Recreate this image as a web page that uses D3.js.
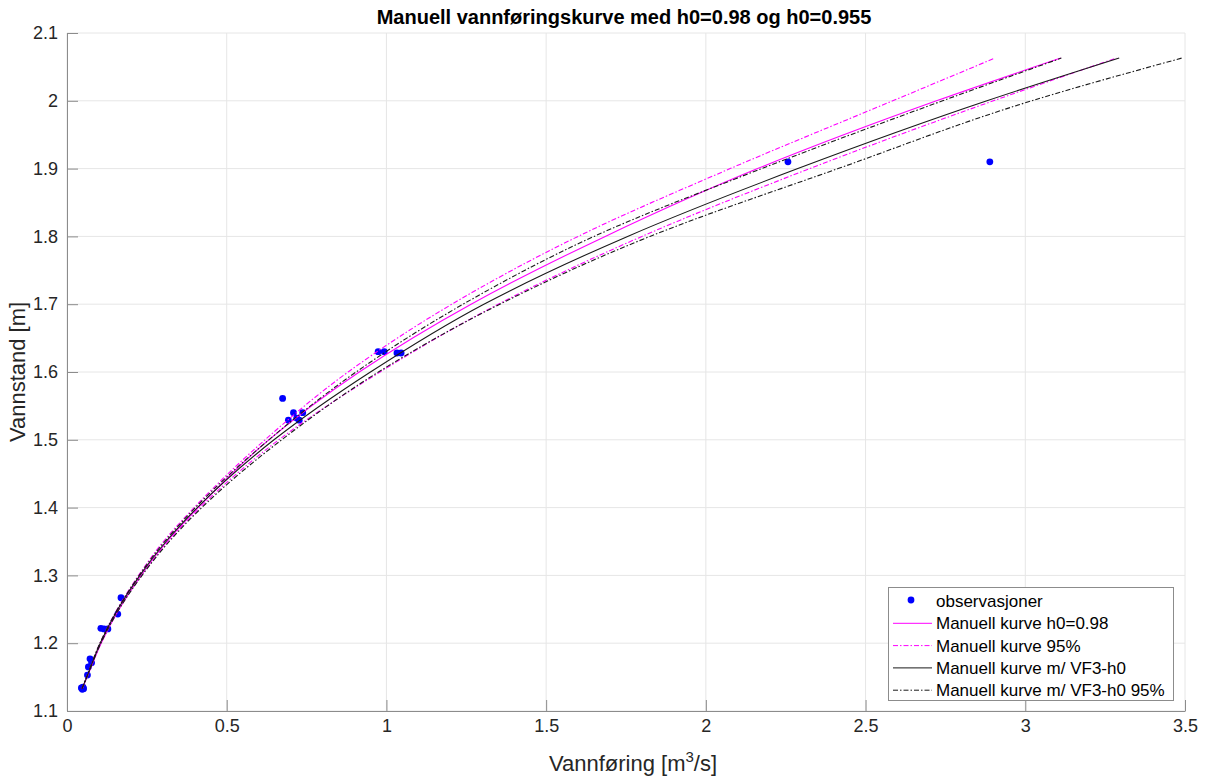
<!DOCTYPE html>
<html>
<head>
<meta charset="utf-8">
<script src="https://cdn.jsdelivr.net/npm/d3@7"></script>
<style>
  body { margin: 0; background: #fff; }
  svg { font-family: "Liberation Sans", Arial, sans-serif; }
</style>
</head>
<body>
<svg id="chart" width="1205" height="776"></svg>
<script>
// stage levels (m) at which the curves are read
const stage = [1.133, 1.15, 1.2, 1.25, 1.3, 1.35, 1.4, 1.5, 1.6, 1.7, 1.8, 1.9, 2.0, 2.063];

// discharge (m3/s) for each curve at the stage levels above
const manuell     = [0.048, 0.063, 0.107, 0.163, 0.232, 0.313, 0.410, 0.632, 0.915, 1.265, 1.685, 2.162, 2.722, 3.111];
const manuellUpp  = [0.047, 0.061, 0.103, 0.157, 0.224, 0.302, 0.398, 0.620, 0.880, 1.205, 1.600, 2.076, 2.585, 2.905];
const manuellNed  = [0.047, 0.062, 0.105, 0.161, 0.232, 0.316, 0.416, 0.663, 0.980, 1.350, 1.800, 2.325, 2.900, 3.285];
const vf3         = [0.047, 0.062, 0.104, 0.159, 0.228, 0.310, 0.408, 0.648, 0.950, 1.305, 1.755, 2.288, 2.880, 3.294];
const vf3Upp      = [0.047, 0.061, 0.103, 0.158, 0.226, 0.306, 0.402, 0.632, 0.905, 1.240, 1.650, 2.175, 2.741, 3.113];
const vf3Ned      = [0.047, 0.062, 0.106, 0.163, 0.235, 0.320, 0.422, 0.672, 0.975, 1.355, 1.825, 2.414, 3.020, 3.490];

// observations
const obsQ = [0.045, 0.048, 0.050, 0.052, 0.064, 0.067, 0.072, 0.077, 0.106, 0.116, 0.128, 0.159, 0.169,
              0.675, 0.693, 0.709, 0.719, 0.727, 0.738, 0.974, 0.993, 1.033, 1.046, 2.257, 2.889];
const obsH = [1.134, 1.132, 1.135, 1.133, 1.153, 1.165, 1.177, 1.171, 1.222, 1.221, 1.221, 1.243, 1.267,
              1.561, 1.529, 1.540, 1.532, 1.529, 1.540, 1.630, 1.630, 1.628, 1.628, 1.910, 1.910];

const xTicks = [0, 0.5, 1, 1.5, 2, 2.5, 3, 3.5];
const yTicks = [1.1, 1.2, 1.3, 1.4, 1.5, 1.6, 1.7, 1.8, 1.9, 2.0, 2.1];

const legendLabels = ["observasjoner", "Manuell kurve h0=0.98", "Manuell kurve 95%",
                      "Manuell kurve m/ VF3-h0", "Manuell kurve m/ VF3-h0 95%"];

const svg = d3.select("#chart");

const x = d3.scaleLinear().domain([0, 3.5]).range([67, 1185]);
const y = d3.scaleLinear().domain([1.1, 2.1]).range([711, 33]);

// grid
const grid = svg.append("g");
grid.selectAll(".gx").data(xTicks).enter().append("line")
  .attr("x1", d => x(d)).attr("x2", d => x(d))
  .attr("y1", y(1.1)).attr("y2", y(2.1))
  .attr("stroke", "#e6e6e6").attr("stroke-width", 1);
grid.selectAll(".gy").data(yTicks).enter().append("line")
  .attr("x1", x(0)).attr("x2", x(3.5))
  .attr("y1", d => y(d)).attr("y2", d => y(d))
  .attr("stroke", "#e6e6e6").attr("stroke-width", 1);

// axes
const xAxis = d3.axisBottom(x).tickValues(xTicks).tickSizeInner(-11).tickSizeOuter(0)
  .tickPadding(20).tickFormat(d3.format("~g"));
const yAxis = d3.axisLeft(y).tickValues(yTicks).tickSizeInner(-11).tickSizeOuter(0)
  .tickPadding(20).tickFormat(d3.format("~g"));

const gx = svg.append("g").attr("transform", `translate(0,${y(1.1)})`).call(xAxis);
const gy = svg.append("g").attr("transform", `translate(${x(0)},0)`).call(yAxis);
[gx, gy].forEach(g => {
  g.select(".domain").attr("stroke", "#8c8c8c");
  g.selectAll(".tick line").attr("stroke", "#8c8c8c");
  g.selectAll(".tick text").attr("fill", "#262626").style("font-size", "18px");
});
gx.selectAll(".tick text").attr("dy", "0.05em");
gy.selectAll(".tick text").attr("dx", "11px");

// observations first, curves drawn over them
svg.append("g").selectAll("circle").data(obsQ).enter().append("circle")
  .attr("cx", d => x(d)).attr("cy", (d, i) => y(obsH[i]))
  .attr("r", 3.4).attr("fill", "#0000ff");

const line = d3.line().curve(d3.curveMonotoneY)
  .x(d => x(d[0])).y(d => y(d[1]));
const curves = [
  {q: manuell, color: "#ff00ff", dash: null},
  {q: manuellUpp, color: "#ff00ff", dash: "5,2,1.5,2"},
  {q: manuellNed, color: "#ff00ff", dash: "5,2,1.5,2"},
  {q: vf3, color: "#1a1a1a", dash: null},
  {q: vf3Upp, color: "#1a1a1a", dash: "5,2,1.5,2"},
  {q: vf3Ned, color: "#1a1a1a", dash: "5,2,1.5,2"}
];
svg.append("g").selectAll("path").data(curves).enter().append("path")
  .attr("d", c => line(c.q.map((q, i) => [q, stage[i]])))
  .attr("fill", "none").attr("stroke", c => c.color).attr("stroke-width", 1.1)
  .attr("stroke-dasharray", c => c.dash);

// title and labels
svg.append("text").attr("x", 624).attr("y", 24).attr("text-anchor", "middle")
  .style("font-size", "20px").style("font-weight", "bold").attr("fill", "#000")
  .text("Manuell vannføringskurve med h0=0.98 og h0=0.955");

const xl = svg.append("text").attr("x", 633).attr("y", 771).attr("text-anchor", "middle")
  .style("font-size", "22px").attr("fill", "#262626");
xl.append("tspan").text("Vannføring [m");
xl.append("tspan").text("3").attr("dy", "-9").style("font-size", "15px");
xl.append("tspan").text("/s]").attr("dy", "9");

svg.append("text").attr("transform", `translate(25,${(y(1.1) + y(2.1)) / 2}) rotate(-90)`)
  .attr("text-anchor", "middle").style("font-size", "22px").attr("fill", "#262626")
  .text("Vannstand [m]");

// legend
const lg = svg.append("g");
lg.append("rect").attr("x", 888.5).attr("y", 587.5).attr("width", 285).attr("height", 113)
  .attr("fill", "#fff").attr("stroke", "#8c8c8c").attr("stroke-width", 1);
const legendStyle = [
  {type: "dot"},
  {color: "#ff00ff", dash: null},
  {color: "#ff00ff", dash: "5,2,1.5,2"},
  {color: "#1a1a1a", dash: null},
  {color: "#1a1a1a", dash: "5,2,1.5,2"}
];
legendLabels.forEach((label, i) => {
  const cy = 601 + i * 22.3;
  const s = legendStyle[i];
  if (s.type === "dot") {
    lg.append("circle").attr("cx", 911).attr("cy", cy - 1).attr("r", 3.4).attr("fill", "#0000ff");
  } else {
    lg.append("line").attr("x1", 893).attr("x2", 932).attr("y1", cy).attr("y2", cy)
      .attr("stroke", s.color).attr("stroke-width", 1).attr("stroke-dasharray", s.dash);
  }
  lg.append("text").attr("x", 936).attr("y", cy + 6).style("font-size", "17px")
    .attr("fill", "#000").text(label);
});
</script>
</body>
</html>
